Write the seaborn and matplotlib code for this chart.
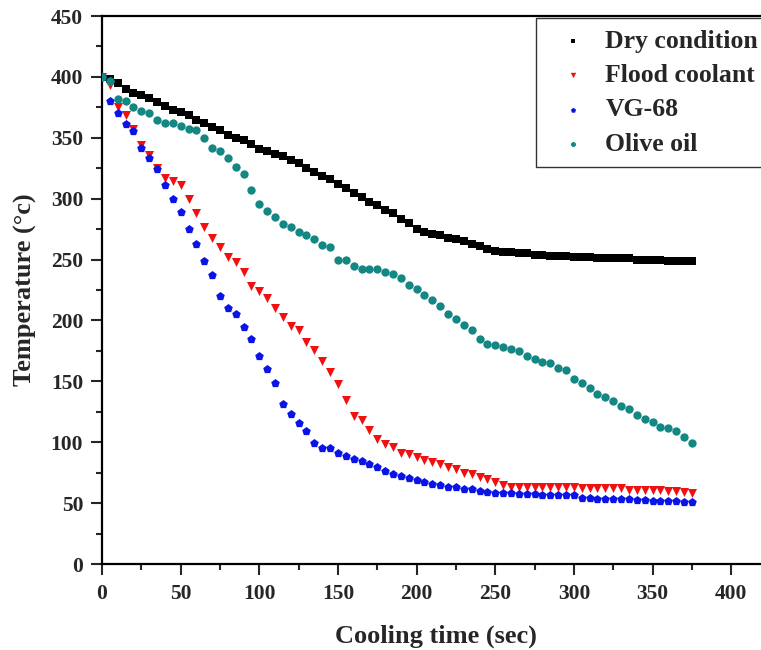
import numpy as np
import pandas as pd
import matplotlib
matplotlib.use("Agg")
import matplotlib.pyplot as plt
from matplotlib.ticker import MultipleLocator
import seaborn as sns

# cooling time (sec), one reading every 5 s
time_sec = list(range(0, 380, 5))

dry_condition = [
    400, 398, 395, 390, 387, 385, 383, 379, 376, 373,
    371, 369, 365, 362, 359, 356, 352.5, 350, 348, 345,
    341, 339, 337, 335, 332, 329, 325, 322, 319, 316,
    312, 308.5, 305, 301, 297.5, 295, 291, 288, 283, 280,
    275, 272.5, 271, 270, 268, 267, 265, 263, 261, 259,
    257, 256, 256, 255.5, 255, 254, 254, 253, 253, 253,
    252, 252, 252, 251, 251, 251, 251, 251, 250, 250,
    250, 250, 249, 249, 249, 249,
]

flood_coolant = [
    400, 393, 375.5, 368.5, 357.5, 344, 336, 325.5, 317, 314.5,
    311, 299.5, 288.5, 277, 268, 260, 252, 248, 240, 228.5,
    224, 218.5, 210, 202.5, 195.5, 192, 182.5, 175.5, 167, 158,
    147.5, 134.5, 121.5, 118, 110, 102.5, 98.5, 96, 91, 90.5,
    88, 85.5, 83.5, 82, 80, 78, 75, 73.5, 71.5, 70,
    67.5, 65, 63.5, 63.5, 63.5, 63.5, 63.5, 63.5, 63.5, 63.5,
    63, 62.5, 62.5, 62.5, 62.5, 62.5, 62, 61, 61, 61,
    61, 60.5, 60, 60, 59.5, 58.5,
]

vg_68 = [
    400, 380, 370, 361, 355.5, 342, 333, 324.5, 311, 300,
    289, 275, 262.5, 249, 237, 220, 210.5, 205.5, 195, 185,
    171, 160, 149, 131.5, 123, 116, 109, 99, 95.5, 95,
    91, 89, 86, 84.5, 82.5, 79.5, 76, 74, 72, 71,
    69, 67, 65.5, 65, 63.5, 63, 61.5, 61.5, 60, 59.5,
    58.5, 58, 58, 57.5, 57.5, 57.5, 57, 57, 57, 56.5,
    56.5, 54, 54, 53.5, 53.5, 53.5, 53, 53, 52.5, 52.5,
    52, 52, 51.5, 51.5, 51, 51,
]

olive_oil = [
    400, 397, 382, 380, 375, 372, 370.5, 365, 362.5, 362,
    360, 357.5, 356, 350, 342, 339.5, 333, 326, 320, 307,
    296, 290, 285, 279, 277, 273, 270.5, 267, 262, 260,
    250, 249.5, 245, 242, 242, 242, 239.5, 238.5, 235, 229,
    226, 221, 216.5, 212, 205, 201.5, 196, 192.5, 185, 181,
    180, 178, 176.5, 175, 171, 168, 166, 165, 161, 159,
    152, 149, 144.5, 140, 137, 133.5, 130, 127, 122, 119,
    117, 112.5, 112, 109, 104, 99,
]

series = {
    "Dry condition": (dry_condition, "#000000", "s", 30),
    "Flood coolant": (flood_coolant, "#f01010", "v", 42),
    "VG-68": (vg_68, "#0a14e6", "p", 42),
    "Olive oil": (olive_oil, "#138783", "o", 36),
}

sns.set_style("ticks")
plt.rcParams["font.family"] = ["Liberation Serif", "DejaVu Serif"]
plt.rcParams["font.weight"] = "bold"

fig = plt.figure(figsize=(7.61, 6.50), dpi=100)
ax = fig.add_axes([102 / 761, 86 / 650, 668.5 / 761, 548 / 650])

for name, (vals, col, mk, sz) in series.items():
    df = pd.DataFrame({"time": time_sec, "temp": vals})
    sns.scatterplot(data=df, x="time", y="temp", ax=ax, color=col, marker=mk,
                    s=sz, linewidth=0, label=name, zorder=3)

ax.set_xlim(0, 425)
ax.set_ylim(0, 450)
ax.xaxis.set_major_locator(MultipleLocator(50))
ax.xaxis.set_minor_locator(MultipleLocator(25))
ax.yaxis.set_major_locator(MultipleLocator(50))
ax.yaxis.set_minor_locator(MultipleLocator(25))
ax.set_xticks(np.arange(0, 401, 50))

ax.tick_params(axis="both", which="major", length=8, width=1.5, labelsize=15.5,
               direction="out", top=False, right=False)
ax.tick_params(axis="x", which="major", pad=6.5)
ax.tick_params(axis="y", which="major", pad=5.5)
ax.tick_params(axis="both", which="minor", length=4.5, width=1.5,
               direction="out", top=False, right=False)
for lab in ax.get_xticklabels() + ax.get_yticklabels():
    lab.set_fontweight("bold")

for sp in ax.spines.values():
    sp.set_linewidth(1.6)
    sp.set_color("black")

ax.set_xlabel("Cooling time (sec)", fontsize=19, fontweight="bold", labelpad=15)
ax.set_ylabel("Temperature (°c)", fontsize=19, fontweight="bold", labelpad=10)

leg = ax.legend(loc="upper left", bbox_to_anchor=((536 - 102) / 668.5, 0.996),
                borderaxespad=0, frameon=True, fancybox=False, edgecolor="black",
                prop={"family": "Liberation Serif", "weight": "bold", "size": 18.5},
                handlelength=2.0, handletextpad=0.25, labelspacing=0.44,
                markerscale=0.6, borderpad=0.45)
leg.get_frame().set_linewidth(1.0)

fig.savefig("out.png", dpi=100)
